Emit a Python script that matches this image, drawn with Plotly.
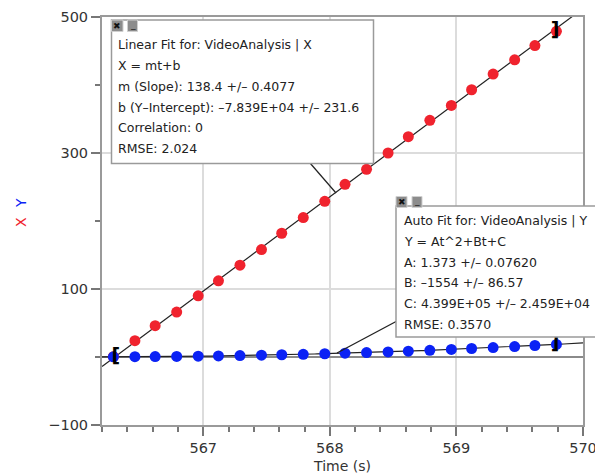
import numpy as np
import plotly.graph_objects as go

# ---- data ----
time_s = [566.29, 566.46, 566.62, 566.79, 566.96, 567.12, 567.29, 567.46, 567.62, 567.79, 567.96,
          568.12, 568.29, 568.46, 568.62, 568.79, 568.96, 569.12, 569.29, 569.46, 569.62, 569.79]
x_pos = [0.4, 24, 46, 66, 90, 112, 135, 158, 182, 205, 229,
         254, 276, 300, 324, 348, 370, 393, 416, 437, 458, 479]
y_pos = [0.2, 0.4, 0.6, 0.9, 1.2, 1.6, 2.1, 2.7, 3.3, 4.0, 4.8,
         5.6, 6.5, 7.5, 8.6, 9.8, 11.1, 12.5, 13.9, 15.4, 16.9, 18.5]

x_range = [566.2, 570]
y_range = [-100, 500]
x_ticks = [567, 568, 569, 570]
y_ticks = [-100, 100, 300, 500]

lin_lines = ["Linear Fit for: VideoAnalysis | X", "X = mt+b",
             "m (Slope): 138.4 +/\u2013 0.4077",
             "b (Y\u2013Intercept): \u20137.839E+04 +/\u2013 231.6",
             "Correlation: 0", "RMSE: 2.024"]
quad_lines = ["Auto Fit for: VideoAnalysis | Y", "Y = At^2+Bt+C",
              "A: 1.373 +/\u2013 0.07620", "B: \u20131554 +/\u2013 86.57",
              "C: 4.399E+05 +/\u2013 2.459E+04", "RMSE: 0.3570"]

RED = "#f0232e"
BLUE = "#0b22f5"

# ---- layout geometry (pixels; page has an 8px body margin) ----
OFF = 8
W, H = 603 - OFF, 475 - OFF
L, R, T, B = 102 - OFF, 20, 17 - OFF, 50
PW, PH = W - L - R, H - T - B


def px(x):  # x given in screenshot pixels
    return (x - OFF - L) / PW


def py(y):
    return (T + PH - (y - OFF)) / PH


# fits computed from the data
t = np.array(time_s)
lin = np.polyfit(t, np.array(x_pos), 1)
quad = np.polyfit(t, np.array(y_pos), 2)
tt = np.linspace(x_range[0], x_range[1], 200)

fig = go.Figure()
fig.add_trace(go.Scatter(x=tt, y=np.polyval(lin, tt), mode="lines",
                         line=dict(color="#222", width=1.2), hoverinfo="skip"))
fig.add_trace(go.Scatter(x=tt, y=np.polyval(quad, tt), mode="lines",
                         line=dict(color="#222", width=1.2), hoverinfo="skip"))
fig.add_trace(go.Scatter(x=time_s, y=x_pos, mode="markers", name="X",
                         marker=dict(color=RED, size=11, line=dict(width=0))))
fig.add_trace(go.Scatter(x=time_s, y=y_pos, mode="markers", name="Y",
                         marker=dict(color=BLUE, size=11, line=dict(width=0))))
# fit-range brackets
fig.add_trace(go.Scatter(x=[time_s[0] + 0.02, time_s[-1] - 0.01, time_s[-1] - 0.01],
                         y=[y_pos[0], x_pos[-1], y_pos[-1]],
                         mode="text", text=["<b>[</b>", "<b>]</b>", "<b>]</b>"],
                         textfont=dict(family="DejaVu Sans", size=19, color="black"),
                         hoverinfo="skip"))

shapes = []
annotations = []


def add_box(x0, y0, x1, y1, lines, tx, ty0, dy, btn_y0, btn_y1, btn_x):
    shapes.append(dict(type="rect", xref="paper", yref="paper", layer="above",
                       x0=px(x0), x1=px(x1), y0=py(y1), y1=py(y0),
                       fillcolor="white", line=dict(color="#9a9a9a", width=1.5)))
    for (bx0, bx1), sym in zip(btn_x, ["\u2716", "_"]):
        shapes.append(dict(type="rect", xref="paper", yref="paper", layer="above",
                           x0=px(bx0), x1=px(bx1), y0=py(btn_y1), y1=py(btn_y0),
                           fillcolor="#8c8c8c", line=dict(color="#cfcfcf", width=1)))
        annotations.append(dict(xref="paper", yref="paper", x=px((bx0 + bx1) / 2),
                                y=py((btn_y0 + btn_y1) / 2 + (0 if sym != "_" else -1)),
                                text=sym, showarrow=False, xanchor="center", yanchor="middle",
                                font=dict(family="DejaVu Sans", size=9, color="#111")))
    for i, s in enumerate(lines):
        annotations.append(dict(xref="paper", yref="paper", x=px(tx), y=py(ty0 + i * dy),
                                text=s, showarrow=False, xanchor="left", yanchor="middle",
                                font=dict(family="DejaVu Sans", size=12.5, color="#222")))


# connector lines (box -> fit line)
shapes.append(dict(type="line", xref="paper", yref="paper", layer="above",
                   x0=px(310), y0=py(163), x1=px(336), y1=py(193),
                   line=dict(color="#222", width=1.2)))
shapes.append(dict(type="line", xref="paper", yref="paper", layer="above",
                   x0=px(397), y0=py(321), x1=px(337), y1=py(353),
                   line=dict(color="#222", width=1.2)))

add_box(111.5, 20, 373.5, 163.5, lin_lines, 116, 45, 20.7, 20, 31.5,
        [(111.5, 123), (127.5, 137.5)])
add_box(396, 206, 599, 337, quad_lines, 401.5, 220.7, 20.7, 196.5, 207.5,
        [(396, 407), (412, 422)])

# y-axis title (two coloured letters, rotated)
annotations.append(dict(xref="paper", yref="paper", x=px(21), y=py(222), text="X",
                        textangle=-90, showarrow=False, xanchor="center", yanchor="middle",
                        font=dict(family="DejaVu Sans", size=14, color=RED)))
annotations.append(dict(xref="paper", yref="paper", x=px(21), y=py(203), text="Y",
                        textangle=-90, showarrow=False, xanchor="center", yanchor="middle",
                        font=dict(family="DejaVu Sans", size=14, color=BLUE)))

axis_common = dict(showline=True, linecolor="#9a9a9a", linewidth=2, mirror=True,
                   ticks="outside", ticklen=9, tickwidth=1.5, tickcolor="#777",
                   showgrid=True, gridcolor="#dcdcdc", gridwidth=1.5,
                   tickfont=dict(family="DejaVu Sans", size=14.5, color="#333"))

fig.update_layout(
    width=W, height=H, margin=dict(l=L, r=R, t=T, b=B, autoexpand=False),
    paper_bgcolor="white", plot_bgcolor="white", showlegend=False,
    font=dict(family="DejaVu Sans", color="#333"),
    shapes=shapes, annotations=annotations,
    xaxis=dict(range=x_range, tickvals=x_ticks, zeroline=False,
               title=dict(text="Time (s)", font=dict(size=14, color="#333"), standoff=6),
               minor=dict(dtick=0.2, tick0=566, ticks="outside", ticklen=5,
                          tickcolor="#777", showgrid=False),
               **axis_common),
    yaxis=dict(range=y_range, tickvals=y_ticks, zeroline=True, zerolinecolor="#8a8a8a",
               zerolinewidth=2,
               minor=dict(dtick=100, tick0=-100, ticks="outside", ticklen=5,
                          tickcolor="#777", showgrid=False),
               **axis_common),
)

fig.write_html("out.html")
